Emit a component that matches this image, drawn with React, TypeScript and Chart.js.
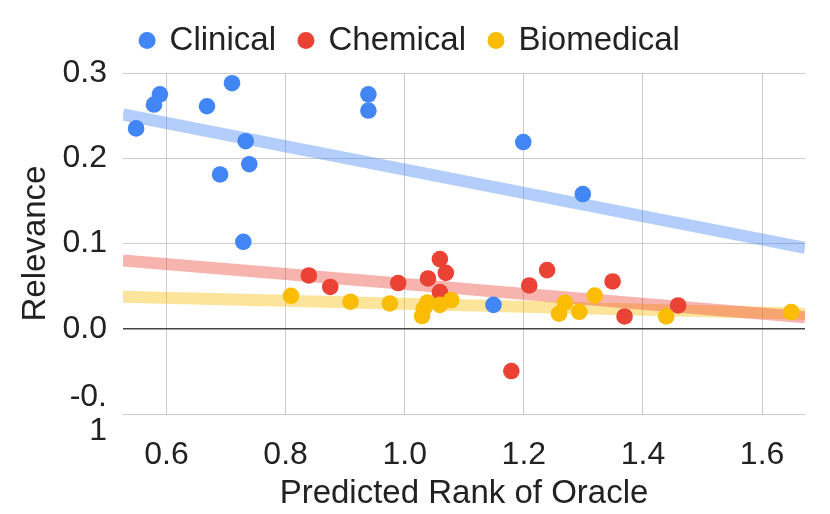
import React, { useEffect, useRef } from 'react';
import { Chart, registerables } from 'chart.js';

Chart.register(...registerables);

// ---- data ----
const seriesNames = ['Clinical', 'Chemical', 'Biomedical'];
const seriesColors = ['#4285F4', '#EA4335', '#FBBC04'];
const trendColors = ['rgba(66,133,244,0.4)', 'rgba(234,67,53,0.4)', 'rgba(251,188,4,0.4)'];

const clinicalX = [0.549, 0.579, 0.589, 0.668, 0.710, 0.733, 0.739, 0.690, 0.729, 0.939, 0.939, 1.199, 1.299, 1.149];
const clinicalY = [0.235, 0.263, 0.275, 0.261, 0.288, 0.220, 0.193, 0.181, 0.102, 0.275, 0.256, 0.219, 0.158, 0.028];

const chemicalX = [0.839, 0.875, 0.989, 1.039, 1.059, 1.069, 1.059, 1.179, 1.209, 1.239, 1.349, 1.369, 1.459];
const chemicalY = [0.0625, 0.049, 0.0536, 0.059, 0.0817, 0.0656, 0.043, -0.0496, 0.0508, 0.0688, 0.0555, 0.0144, 0.0273];

const biomedicalX = [0.809, 0.909, 0.975, 1.029, 1.032, 1.038, 1.059, 1.078, 1.259, 1.269, 1.293, 1.319, 1.439, 1.649];
const biomedicalY = [0.0387, 0.0317, 0.0297, 0.0149, 0.0234, 0.0308, 0.028, 0.0336, 0.0176, 0.0305, 0.0199, 0.039, 0.0144, 0.0196];

const xTicks = [0.6, 0.8, 1.0, 1.2, 1.4, 1.6];
const yTicks = [-0.1, 0.0, 0.1, 0.2, 0.3];
const xMin = 0.527;
const xMax = 1.672;
const yMin = -0.1;
const yMax = 0.3;

const xTitle = 'Predicted Rank of Oracle';
const yTitle = 'Relevance';

// ---- helpers ----
function linFit(xs: number[], ys: number[]) {
  const n = xs.length;
  const mx = xs.reduce((a, b) => a + b, 0) / n;
  const my = ys.reduce((a, b) => a + b, 0) / n;
  let sxy = 0, sxx = 0;
  for (let i = 0; i < n; i++) {
    sxy += (xs[i] - mx) * (ys[i] - my);
    sxx += (xs[i] - mx) * (xs[i] - mx);
  }
  const slope = sxy / sxx;
  return { slope, intercept: my - slope * mx };
}

function pts(xs: number[], ys: number[]) {
  return xs.map((x, i) => ({ x, y: ys[i] }));
}

function trend(xs: number[], ys: number[]) {
  const { slope, intercept } = linFit(xs, ys);
  return [
    { x: xMin, y: intercept + slope * xMin },
    { x: xMax, y: intercept + slope * xMax },
  ];
}

const FONT = '"Liberation Sans", Arial, sans-serif';

export default function App() {
  const ref = useRef<HTMLCanvasElement | null>(null);

  useEffect(() => {
    document.body.style.margin = '0';
    const canvas = ref.current;
    if (!canvas) return;

    const xsAll = [clinicalX, chemicalX, biomedicalX];
    const ysAll = [clinicalY, chemicalY, biomedicalY];
    const pointOrders = [3, 2, 1];
    const trendOrders = [6, 4, 5];

    const scatterSets: any[] = seriesNames.map((name, i) => ({
      type: 'scatter',
      label: name,
      data: pts(xsAll[i], ysAll[i]),
      backgroundColor: seriesColors[i],
      borderColor: seriesColors[i],
      borderWidth: 0,
      pointRadius: 8.3,
      pointHoverRadius: 8.3,
      pointStyle: 'circle',
      order: pointOrders[i],
    }));

    const trendSets: any[] = seriesNames.map((name, i) => ({
      type: 'line',
      label: name + ' trend',
      data: trend(xsAll[i], ysAll[i]),
      borderColor: trendColors[i],
      backgroundColor: trendColors[i],
      borderWidth: 12,
      pointRadius: 0,
      fill: false,
      tension: 0,
      borderCapStyle: 'butt',
      order: trendOrders[i],
    }));

    const legendGap = {
      id: 'legendGap',
      afterInit(chart: any) {
        const lg = chart.legend;
        if (!lg) return;
        const orig = lg.fit;
        lg.fit = function () {
          orig.call(this);
          this.height += 6;
        };
      },
    };

    const chart = new Chart(canvas, {
      type: 'scatter',
      data: { datasets: [...scatterSets, ...trendSets] },
      plugins: [legendGap],
      options: {
        responsive: false,
        animation: false,
        devicePixelRatio: 1,
        layout: { padding: { top: 0, right: 25, bottom: 0, left: 16 } },
        plugins: {
          tooltip: { enabled: false },
          legend: {
            position: 'top',
            align: 'center',
            labels: {
              usePointStyle: true,
              boxWidth: 12,
              boxHeight: 12,
              padding: 24,
              color: '#222',
              font: { family: FONT, size: 33 },
              filter: (item: any) => item.datasetIndex < 3,
              sort: (a: any, b: any) => a.datasetIndex - b.datasetIndex,
            },
          },
        },
        scales: {
          x: {
            type: 'linear',
            min: xMin,
            max: xMax,
            afterFit: (scale: any) => { scale.height = 100; },
            afterBuildTicks: (scale: any) => { scale.ticks = xTicks.map((v) => ({ value: v })); },
            border: { display: false },
            grid: { color: '#cccccc', lineWidth: 1, drawTicks: false },
            ticks: {
              padding: 22,
              color: '#222',
              font: { family: FONT, size: 32 },
              maxRotation: 0,
              callback: (v: any) => Number(v).toFixed(1),
            },
            title: {
              display: true,
              text: xTitle,
              color: '#222',
              font: { family: FONT, size: 33 },
              padding: { top: 0, bottom: 0 },
            },
          },
          y: {
            type: 'linear',
            min: yMin,
            max: yMax,
            afterFit: (scale: any) => { scale.width = 107; },
            afterBuildTicks: (scale: any) => { scale.ticks = yTicks.map((v) => ({ value: v })); },
            border: { display: false },
            grid: {
              drawTicks: false,
              color: (ctx: any) => (ctx.tick && Math.abs(ctx.tick.value) < 1e-9 ? '#444444' : '#cccccc'),
              lineWidth: (ctx: any) => (ctx.tick && Math.abs(ctx.tick.value) < 1e-9 ? 1.5 : 1),
            },
            ticks: {
              padding: 16,
              color: '#222',
              font: { family: FONT, size: 32, lineHeight: 1.05 },
              callback: (v: any) => {
                const s = Number(v).toFixed(1);
                return s === '-0.1' ? ['-0.', '1'] : s;
              },
            },
            title: {
              display: true,
              text: yTitle,
              color: '#222',
              font: { family: FONT, size: 33 },
              padding: { top: 0, bottom: 0 },
            },
          },
        },
      } as any,
    });

    return () => chart.destroy();
  }, []);

  return (
    <div style={{ width: 830, height: 514, background: '#fff' }}>
      <canvas ref={ref} width={830} height={514} style={{ display: 'block', width: 830, height: 514 }} />
    </div>
  );
}
